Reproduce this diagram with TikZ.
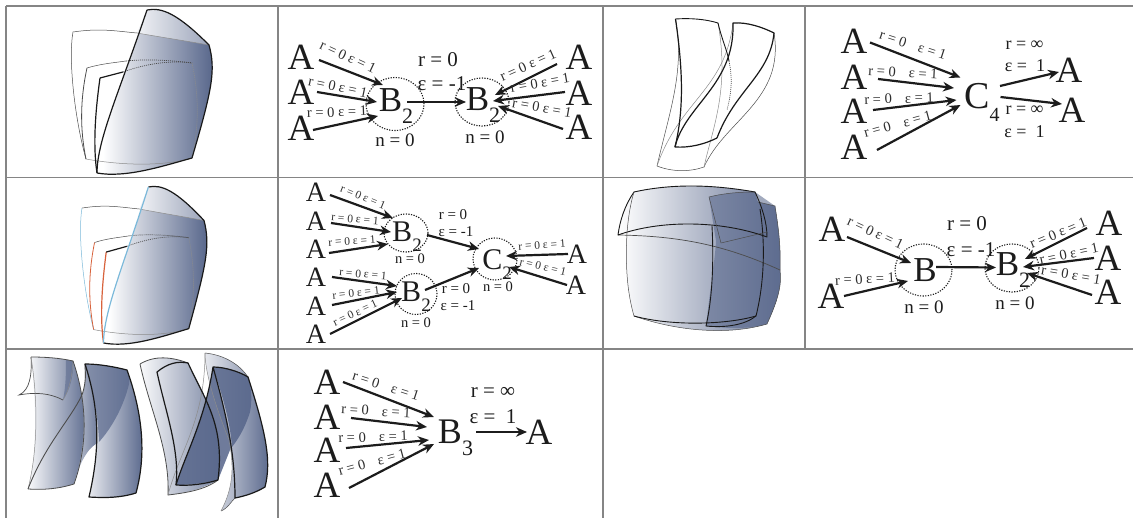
\documentclass[tikz,border=0pt]{standalone}
\usepackage{fontspec}
\setmainfont{Liberation Serif}
\usetikzlibrary{arrows.meta,calc,shapes.geometric}
\definecolor{bluedark}{HTML}{56658A}
\definecolor{gridc}{HTML}{858585}
\definecolor{inkc}{HTML}{1C1C1C}
\definecolor{skyc}{HTML}{7BB9DA}
\definecolor{redc}{HTML}{D8633C}
\newcount\lbc
\newcommand\fsz[1]{\fontsize{#1}{#1}\selectfont}
\newcommand\lb[5][14.5]{\global\advance\lbc by 1 \node[txt,text=black!82,rotate=#4] (lab\the\lbc) at (#2,#3) {\fsz{#1}#5};}
\newcommand\tx[5][18]{\global\advance\lbc by 1 \node[txt] (lab\the\lbc) at (#2,#3) {\fsz{#1}#4#5};}
\newcommand\An[4][37]{\node[txt] (#2) at (#3,#4) {\fsz{#1}A};}
\newcommand\Bs[7]{\node[txt,anchor=base] (#1) at (#2,#3) {\fsz{#6}#4\raisebox{-.33em}{\fsz{#7}#5}};}
\newcommand\conn[4]{\draw[arr] ($(#1)+(#2)$) -- ($(#3)+(#4)$);}
\newcommand\rz{r = 0 ε = 1}
\newcommand\rw{r = 0\hspace{.9em}ε = 1}
\tikzset{
  txt/.style={inner sep=0pt,text=inkc},
  arr/.style={line width=2.2pt,draw=inkc,-{Stealth[length=11pt,width=9.5pt,inset=3.5pt]}},
  dotc/.style={ellipse,draw=inkc,line width=1.1pt,dash pattern=on 1.2pt off 1.4pt,inner sep=0pt},
  gridl/.style={draw=gridc,line width=1.1pt},
  sheet/.style={draw=black!90,line width=1.2pt,line join=round},
  thin sheet/.style={draw=black!70,line width=.5pt},
  faint/.style={draw=black!45,line width=.5pt},
  dotl/.style={draw=black!70,line width=.7pt,dash pattern=on 1pt off 1pt},
}
\newcommand\foldA[3]{%
  \begin{scope}
    \clip (147,10) .. controls (162,7) and (178,14) .. (209,45) .. controls (216,70) and (212,90) .. (192,158) .. controls (160,167) and (125,178) .. (97,173) .. controls (97,140) and (120,90) .. (147,10) -- cycle;
    \shade[left color=white,right color=bluedark] (103,0) rectangle (214,180);
    \shade[left color=white,right color=bluedark!72] (103,0) rectangle (214,0) (103,0) rectangle (214,0);
  \end{scope}
  \begin{scope}
    \clip (147,10) .. controls (162,7) and (178,14) .. (209,45) .. controls (180,40) and (160,37) .. (137,33) -- cycle;
    \shade[left color=white,right color=bluedark!62] (125,5) rectangle (214,50);
  \end{scope}
  \draw[thin sheet,#2] (86,159) .. controls (75,120) and (68,60) .. (73,32);
  \draw[thin sheet] (73,32) .. controls (100,28) and (115,31) .. (137,33);
  \draw[faint] (137,33) .. controls (160,37) and (180,40) .. (209,45);
  \draw[thin sheet,#3,line width=.8pt] (86,159) .. controls (80,130) and (80,100) .. (87,68);
  \draw[thin sheet] (87,68) .. controls (100,64) and (112,63) .. (126,61);
  \draw[dotl] (126,61) .. controls (145,59) and (170,60) .. (192,63);
  \draw[dotl,black!45] (192,63) .. controls (200,100) and (198,130) .. (192,158);
  \draw[faint] (86,159) .. controls (125,166) and (165,166) .. (192,158);
  \draw[sheet,#3] (97,173) .. controls (92,140) and (97,100) .. (100,78);
  \draw[sheet] (100,78) -- (123,72);
  \draw[dotl] (123,72) .. controls (145,64) and (170,60) .. (192,63);
  \draw[sheet] (147,10) .. controls (162,7) and (178,14) .. (209,45) .. controls (216,70) and (212,90) .. (192,158) .. controls (160,167) and (125,178) .. (97,173);
  \draw[sheet,#1] (97,173) .. controls (97,140) and (120,90) .. (147,10);
}
\begin{document}
\begin{tikzpicture}[x=1pt,y=-1pt]
\useasboundingbox (0,0) rectangle (1133,518);
\fill[white] (0,0) rectangle (1133,518);

%% cell 1,1
\foldA{}{}{}
%% cell 2,1
\begin{scope}[shift={(16.52,177.43)},xscale=.897,yscale=.957]
\foldA{skyc}{skyc}{redc}
\end{scope}

%% cell 1,2
\An{a1}{301}{57}\An{a2}{301}{92}\An{a3}{301}{128}
\An{a4}{579}{57}\An{a5}{579}{93}\An{a6}{579}{127}
\node[dotc,minimum width=58pt,minimum height=53pt] (c1) at (395,104) {};
\node[dotc,minimum width=54pt,minimum height=48pt] (c2) at (482,102) {};
\Bs{b1}{396}{111.5}{B}{2}{35}{22}
\Bs{b2}{483}{110.5}{B}{2}{35}{22}
\conn{a1}{18,3}{c1}{-12,-19}
\conn{a2}{16,0}{c1}{-18,-2}
\conn{a3}{12,2}{c1}{-17,12}
\conn{c1}{12,-2}{c2}{-16,0}
\conn{a4}{-22,7}{c2}{13,-7}
\conn{a5}{-14,-1}{c2}{11,-1}
\conn{a6}{-16,2}{c2}{16,4}
\lb{348}{57}{-25}{\rz}\lb{338}{87}{-12}{\rz}\lb{337}{112}{2}{\rz}
\lb{528}{65}{24}{\rz}\lb{540}{83}{10}{\rz}\lb{542}{108}{-10}{\rz}
\tx[21]{438}{60}{r = 0}{}\tx[21]{442}{84}{ε = -1}{}
\tx[19]{395}{140}{n = 0}{}\tx[19]{485}{137}{n = 0}{}

%% cell 1,3
\draw[thin sheet] (657,166) .. controls (670,110) and (685,70) .. (675.5,19);
\draw[thin sheet] (657,166) .. controls (672,172) and (690,172) .. (704,167);
\draw[thin sheet] (704,167) .. controls (725,120) and (785,100) .. (774,33);
\draw[faint] (657,166) .. controls (680,100) and (725,90) .. (733,23);
\draw[faint] (704,167) .. controls (712,130) and (730,90) .. (718,23);
\draw[sheet,line width=.9pt] (675.5,19) .. controls (690,18) and (705,19) .. (718,23) .. controls (722,40) and (727,50) .. (729,61);
\draw[dotl] (729,61) .. controls (733,80) and (731,95) .. (727,110);
\draw[sheet] (675.5,19) .. controls (683,70) and (684,110) .. (675,147) .. controls (690,148) and (705,144) .. (717,138);
\draw[sheet] (675,147) .. controls (685,105) and (735,85) .. (733,23) .. controls (747,22) and (762,27) .. (774,33) .. controls (770,75) and (735,90) .. (717,138);

%% cell 1,4
\An{h1}{854}{41.5}\An{h2}{854}{77.5}\An{h3}{854}{111.5}\An{h4}{854}{147}
\An{h5}{1069}{70}\An{h6}{1072}{110.5}
\Bs{c4}{982}{109}{C}{4}{38}{20}
\conn{h1}{16,1}{c4.base}{-21.5,-31.5}
\conn{h2}{24,1.5}{c4.base}{-28,-21}
\conn{h3}{19,-1.5}{c4.base}{-25.5,-9}
\conn{h4}{23,3}{c4.base}{-21.5,-4}
\conn{c4.base}{18,-23}{h5}{-10,2}
\conn{c4.base}{18.5,-12}{h6}{-10,-6.5}
\lb{913}{45}{-18}{\rw}\lb{903}{72.5}{-3}{\rw}\lb{899}{98.5}{2}{\rw}\lb{897.6}{124}{15}{\rw}
\tx[18]{1024.5}{45}{r = ∞}{}\tx[18]{1025}{66}{ε =\ \ 1}{}
\tx[18]{1024.5}{110.5}{r = ∞}{}\tx[18]{1024.5}{131.6}{ε =\ \ 1}{}

%% cell 2,2
\An[28]{d1}{316}{192}\An[28]{d2}{316}{221}\An[28]{d3}{316}{249}
\An[28]{d4}{316}{277}\An[28]{d5}{316}{306}\An[28]{d6}{316}{334}
\An[28]{d7}{577}{254}\An[28]{d8}{576}{285}
\node[dotc,minimum width=44pt,minimum height=38pt] (e1) at (406,233) {};
\node[dotc,minimum width=42pt,minimum height=41pt] (e2) at (416,294) {};
\node[dotc,minimum width=44pt,minimum height=42pt] (e3) at (495,259) {};
\Bs{t1}{407}{242}{B}{2}{30}{19}
\Bs{t2}{416}{302}{B}{2}{30}{19}
\Bs{t3}{497}{270}{C}{2}{30}{19}
\conn{d1}{14,3}{e1}{-13,-15}
\conn{d2}{15,2}{e1}{-15,-1}
\conn{d3}{13,4}{e1}{-18,11}
\conn{d4}{16,0}{e2}{-19,-8}
\conn{d5}{16,-1}{e2}{-19,-2}
\conn{d6}{14,0}{e2}{-14,4}
\conn{e1}{21,2}{e3}{-16,-10}
\conn{e2}{9,-4}{e3}{-16,9}
\conn{d7}{-9,0}{e3}{11,-3}
\conn{d8}{-9,0}{e3}{14,8}
\lb[11.5]{363}{197}{-22}{\rz}\lb[11.5]{355}{219}{-5}{\rz}\lb[11.5]{352}{241}{4}{\rz}
\lb[11.5]{363}{274}{-5}{\rz}\lb[11.5]{356}{293}{6}{\rz}\lb[11.5]{355}{313}{25}{\rz}
\lb[11.5]{542}{245}{4}{\rz}\lb[11.5]{543}{267}{-13}{\rz}
\tx[15]{453}{215}{r = 0}{}\tx[15]{456}{232}{ε = -1}{}
\tx[15]{456}{289}{r = 0}{}\tx[15]{458}{306}{ε = -1}{}
\tx[14.5]{410}{259}{n = 0}{}\tx[14.5]{416}{323}{n = 0}{}\tx[14.5]{498}{287}{n = 0}{}

%% cell 2,3
\shade[left color=white,right color=bluedark!90] (627,233) .. controls (625,270) and (628,295) .. (634,316) .. controls (680,332) and (730,335) .. (767,324) .. controls (778,300) and (782,285) .. (780,270) .. controls (781,245) and (778,225) .. (775,206) -- (758,202) -- (755,192) .. controls (710,184) and (670,184) .. (634,192) .. controls (625,205) and (620,220) .. (618,235) -- cycle;
\fill[bluedark,opacity=.55] (709,197) .. controls (725,193) and (740,192) .. (755,192) -- (775,206) .. controls (778,225) and (781,245) .. (780,270) .. controls (782,285) and (778,300) .. (767,324) .. controls (745,330) and (725,328) .. (706,326) .. controls (710,290) and (715,260) .. (716,241) -- cycle;
\draw[thin sheet,line width=.7pt] (618,235) .. controls (680,236) and (725,245) .. (780,270);
\draw[thin sheet] (627,233) .. controls (625,270) and (628,295) .. (634,316);
\draw[thin sheet] (634,316) .. controls (680,332) and (730,335) .. (767,324);
\draw[thin sheet] (767,324) .. controls (778,300) and (782,285) .. (780,270) .. controls (781,245) and (778,225) .. (775,206) -- (758,202);
\draw[sheet,line width=.9pt] (634,316) .. controls (670,326) and (725,325) .. (756,316) .. controls (765,280) and (765,240) .. (760,209);
\draw[sheet,line width=.9pt] (712,226) .. controls (714,265) and (712,300) .. (706,326) .. controls (725,328) and (745,325) .. (756,316);
\draw[sheet,line width=.9pt] (618,235) .. controls (620,220) and (625,205) .. (634,192) .. controls (670,184) and (710,184) .. (755,192) .. controls (762,207) and (767,222) .. (767,237) .. controls (720,220) and (660,220) .. (618,235) -- cycle;
\draw[thin sheet] (709,197) -- (721,243) (721,243) -- (767,232);
\draw[thin sheet] (709,197) .. controls (725,193) and (740,192) .. (755,192);
\draw[thin sheet] (634,192) .. controls (630,205) and (628,220) .. (627,233);

%% cell 2,4
\An{f1}{832}{229}\An{f2}{831}{296}\An{f3}{1109}{223}\An{f4}{1108}{258}\An{f5}{1108}{292}
\node[dotc,minimum width=57pt,minimum height=52pt] (g1) at (923.5,270) {};
\node[dotc,minimum width=54pt,minimum height=48pt] (g2) at (1012,268) {};
\node[txt] (b4) at (925,270) {\fsz{35}B};
\Bs{b5}{1013}{276}{B}{2}{35}{22}
\conn{f1}{15,8}{g1}{-12.5,-7}
\conn{f2}{13,0}{g1}{-15.5,11}
\conn{g1}{12.5,-3}{g2}{-16,-0.5}
\conn{f3}{-22,5}{g2}{13,-9}
\conn{f4}{-14,0}{g2}{11,-1}
\conn{f5}{-16,3}{g2}{15,5}
\lb{875.5}{233}{-25}{\rz}\lb{865}{279}{3}{\rz}
\lb{1058}{233}{22}{\rz}\lb{1069}{254}{12}{\rz}\lb{1071}{275}{-10}{\rz}
\tx[21]{967}{224}{r = 0}{}\tx[21]{971}{250}{ε = -1}{}
\tx[19]{924}{307}{n = 0}{}\tx[19]{1015}{303}{n = 0}{}

%% cell 3,1
\shade[left color=bluedark!3,right color=bluedark] (31,357) .. controls (45,357) and (60,358) .. (73,361) .. controls (85,395) and (90,440) .. (74,484) .. controls (58,489) and (43,490) .. (28,489) .. controls (38,450) and (36,400) .. (31,357) -- cycle;
\fill[bluedark,opacity=.55] (73,361) .. controls (74,375) and (70,390) .. (63,400) .. controls (66,385) and (66,372) .. (66,360) -- cycle;
\shade[left color=bluedark!35,right color=bluedark!90] (74,484) .. controls (80,460) and (90,445) .. (100,442) -- (100,400) -- (85,364) .. controls (84,372) and (87,380) .. (82,397) .. controls (85,420) and (85,450) .. (74,484) -- cycle;
\shade[left color=bluedark!8,right color=bluedark] (85,364) .. controls (100,364) and (115,367) .. (127,370) .. controls (145,420) and (145,460) .. (136,493) .. controls (120,498) and (105,498) .. (89,497) .. controls (100,450) and (100,410) .. (85,364) -- cycle;
\fill[bluedark,opacity=.7] (85,364) .. controls (100,364) and (115,367) .. (127,370) .. controls (130,378) and (130,382) .. (128,388) .. controls (122,410) and (110,430) .. (99,442) .. controls (98,415) and (93,390) .. (85,364) -- cycle;
\draw[thin sheet,line width=.7pt] (31,357) .. controls (32,375) and (30,390) .. (19,395) .. controls (35,392) and (50,393) .. (63,400);
\draw[faint] (63,400) .. controls (68,392) and (72,380) .. (73,361);
\draw[thin sheet,line width=.8pt] (31,357) .. controls (45,357) and (60,358) .. (73,361) .. controls (85,395) and (90,440) .. (74,484) .. controls (58,489) and (43,490) .. (28,489);
\draw[faint] (31,357) .. controls (38,400) and (38,450) .. (28,489);
\draw[thin sheet,line width=.9pt] (28,489) .. controls (45,445) and (70,420) .. (82,395) .. controls (87,380) and (85,372) .. (85,364);
\draw[sheet] (85,364) .. controls (100,364) and (115,367) .. (127,370) .. controls (145,420) and (145,460) .. (136,493) .. controls (120,498) and (105,498) .. (89,497) .. controls (100,450) and (100,410) .. (85,364) -- cycle;
\shade[left color=bluedark!15,right color=bluedark!65] (205,353) .. controls (225,355) and (240,365) .. (248,377) -- (250,440) -- (235,498) .. controls (230,503) and (228,508) .. (221,511) .. controls (232,490) and (235,470) .. (229,440) .. controls (213,400) and (205,370) .. (205,353) -- cycle;
\shade[left color=bluedark!3,right color=bluedark!85] (140,364) .. controls (155,355) and (172,357) .. (188,363) .. controls (205,400) and (225,425) .. (218,480) .. controls (200,490) and (185,493) .. (168,495) .. controls (170,450) and (150,410) .. (140,364) -- cycle;
\fill[bluedark,opacity=.85] (176,485) .. controls (185,455) and (205,420) .. (213,367) -- (222,400) -- (232,445) -- (218,480) .. controls (205,483) and (190,485) .. (176,485) -- cycle;
\shade[left color=bluedark!25,right color=bluedark] (213,367) .. controls (225,367) and (240,372) .. (248,377) .. controls (265,430) and (272,460) .. (265,487) .. controls (255,493) and (245,496) .. (235,498) .. controls (235,450) and (225,410) .. (213,367) -- cycle;
\fill[bluedark,opacity=.85] (213,367) .. controls (225,367) and (240,372) .. (248,377) .. controls (252,390) and (252,402) .. (250,412) .. controls (246,425) and (240,437) .. (232,447) .. controls (230,420) and (222,395) .. (213,367) -- cycle;
\draw[thin sheet,line width=.8pt] (140,364) .. controls (155,355) and (172,357) .. (188,363);
\draw[thin sheet,line width=.8pt] (140,364) .. controls (150,410) and (170,450) .. (168,495) .. controls (185,493) and (205,490) .. (218,480);
\draw[faint] (168,495) .. controls (180,450) and (205,420) .. (205,353);
\draw[thin sheet] (205,353) .. controls (225,355) and (240,365) .. (248,377);
\draw[thin sheet] (221,511) .. controls (228,508) and (230,503) .. (235,498);
\draw[faint] (205,353) .. controls (205,370) and (213,400) .. (229,440) .. controls (235,470) and (232,490) .. (221,511);
\draw[sheet] (157,372) .. controls (168,363) and (178,361) .. (188,363) .. controls (205,400) and (225,425) .. (218,480) .. controls (205,484) and (190,486) .. (176,485) .. controls (180,450) and (165,410) .. (157,372) -- cycle;
\draw[sheet] (176,485) .. controls (185,455) and (205,420) .. (213,367) .. controls (225,367) and (240,372) .. (248,377) .. controls (265,430) and (272,460) .. (265,487) .. controls (255,493) and (245,496) .. (235,498) .. controls (235,450) and (225,410) .. (213,367);

%% cell 3,2
\An{k1}{327}{382}\An{k2}{327}{417}\An{k3}{327}{450}\An{k4}{327}{485}\An{k5}{539}{432}
\Bs{b3}{455.5}{444}{B}{3}{36}{22}
\conn{k1}{16,0}{b3.base}{-21.5,-27}
\conn{k2}{24,1}{b3.base}{-28.5,-17}
\conn{k3}{19,-2}{b3.base}{-26.5,-4}
\conn{k4}{22,3}{b3.base}{-21.5,0}
\conn{b3.base}{20.5,-12}{k5}{-12,0}
\lb{386}{386}{-18}{\rw}\lb{376}{411}{-3}{\rw}\lb{373}{437}{2}{\rw}\lb{372}{462}{15}{\rw}
\tx[21]{493}{392}{r = ∞}{}\tx[21]{493}{417}{ε =\ \ 1}{}

%% grid
\draw[gridl] (6,6) -- (1133,6);
\draw[gridl] (6,177.5) -- (1133,177.5);
\draw[gridl] (6,349) -- (1133,349);
\draw[gridl] (6,6) -- (6,518);
\draw[gridl] (278,6) -- (278,518);
\draw[gridl] (603,6) -- (603,518);
\draw[gridl] (805,6) -- (805,349);
\end{tikzpicture}
\end{document}
